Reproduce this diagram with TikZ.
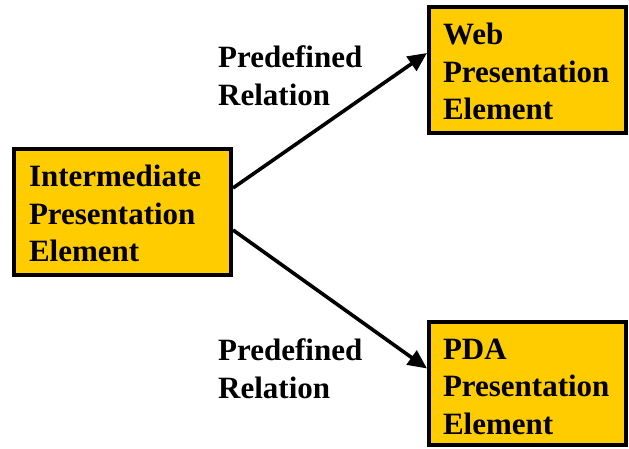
\documentclass[tikz,border=0pt]{standalone}
\usepackage{fontspec}
\setmainfont{Liberation Serif}
\usetikzlibrary{arrows.meta}
\definecolor{boxfill}{HTML}{FFCC00}
\tikzset{
  pbox/.style={draw=black, line width=4pt, fill=boxfill, align=left, inner xsep=15pt,
    font=\fontsize{31}{37.5}\selectfont\bfseries},
  lbl/.style={anchor=base west, align=left, inner sep=0pt,
    font=\fontsize{31}{38}\selectfont\bfseries},
  conn/.style={line width=3.6pt, -{Triangle[length=19pt,width=17pt]}}
}
\begin{document}
\begin{tikzpicture}[x=1pt,y=-1pt]
\useasboundingbox (0,0) rectangle (629,449);
\node[pbox, minimum width=217pt, minimum height=126pt, text width=187pt] (inter) at (122.5,212)
  {\rule{0pt}{25pt}Intermediate\\Presentation\\Element};
\node[pbox, inner xsep=14pt, minimum width=197pt, minimum height=126pt, text width=169pt] (web) at (527.5,70)
  {\rule{0pt}{25pt}Web\\Presentation\\Element};
\node[pbox, inner xsep=14pt, minimum width=197pt, minimum height=123.5pt, text width=169pt] (pda) at (527.5,383.5)
  {\rule{0pt}{27pt}PDA\\Presentation\\Element};
\node[lbl] (lab1) at (218,106) {Predefined\\Relation};
\node[lbl] (lab2) at (218,398) {Predefined\\Relation};
\draw[conn] ([yshift=24pt]inter.east) -- ([yshift=17pt]web.west);
\draw[conn] ([yshift=-18pt]inter.east) -- ([yshift=15pt]pda.west);
\end{tikzpicture}
\end{document}
